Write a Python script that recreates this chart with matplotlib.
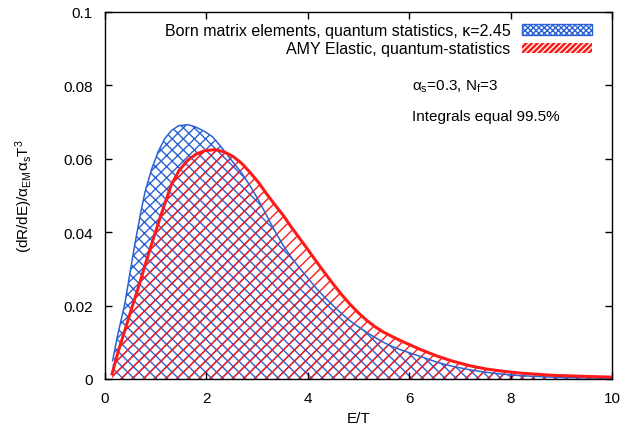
import numpy as np
import matplotlib
matplotlib.use("Agg")
import matplotlib.pyplot as plt
from matplotlib.patches import Patch

plt.rcParams['font.family'] = ['Liberation Sans', 'DejaVu Sans']
plt.rcParams['mathtext.fontset'] = 'custom'
plt.rcParams['mathtext.rm'] = 'Liberation Sans'
plt.rcParams['mathtext.it'] = 'Liberation Sans:italic'
plt.rcParams['font.size'] = 11
plt.rcParams['hatch.linewidth'] = 1.0

# Born matrix elements, quantum statistics (blue)
born_x = [0.15, 0.25, 0.39, 0.50, 0.59, 0.70, 0.79, 0.92, 1.05, 1.18, 1.31, 1.45,
          1.64, 1.80, 1.97, 2.12, 2.27, 2.40, 2.53, 2.70, 2.86, 3.03, 3.19, 3.35,
          3.52, 3.68, 3.85, 4.02, 4.18, 4.34, 4.50, 4.66, 4.83, 5.00, 5.16, 5.33,
          5.49, 5.66, 5.82, 6.21, 6.54, 6.87, 7.20, 7.53, 7.86, 8.19, 9.00, 10.0]
born_y = [0.0050, 0.0120, 0.0204, 0.0295, 0.0368, 0.0450, 0.0510, 0.0572, 0.0620,
          0.0655, 0.0677, 0.0690, 0.0693, 0.0686, 0.0674, 0.0660, 0.0636, 0.0613,
          0.0590, 0.0560, 0.0527, 0.0487, 0.0445, 0.0403, 0.0363, 0.0330, 0.0300,
          0.0272, 0.0245, 0.0222, 0.0200, 0.0179, 0.0159, 0.0142, 0.0127, 0.0113,
          0.0100, 0.0089, 0.0080, 0.0062, 0.0046, 0.0034, 0.0025, 0.0018, 0.0013,
          0.0009, 0.0004, 0.0002]

# AMY elastic, quantum statistics (red)
amy_x = [0.14, 0.25, 0.39, 0.52, 0.66, 0.79, 0.92, 1.10, 1.31, 1.47, 1.64, 1.80,
         1.97, 2.17, 2.35, 2.53, 2.70, 2.86, 3.03, 3.19, 3.35, 3.52, 3.68, 3.85,
         4.02, 4.18, 4.34, 4.50, 4.66, 4.83, 5.00, 5.16, 5.33, 5.49, 5.66, 5.82,
         6.21, 6.54, 6.87, 7.20, 7.53, 7.86, 8.19, 8.84, 9.50, 10.0]
amy_y = [0.0014, 0.0070, 0.0132, 0.0190, 0.0250, 0.0310, 0.0368, 0.0445, 0.0530,
         0.0570, 0.0597, 0.0613, 0.0622, 0.0625, 0.0619, 0.0606, 0.0587, 0.0563,
         0.0535, 0.0504, 0.0475, 0.0445, 0.0413, 0.0381, 0.0349, 0.0318, 0.0288,
         0.0259, 0.0231, 0.0204, 0.0180, 0.0160, 0.0142, 0.0128, 0.0116, 0.0105,
         0.0081, 0.0063, 0.0048, 0.0036, 0.0027, 0.0021, 0.0016, 0.0010, 0.0007,
         0.0005]

x_ticks = [0, 2, 4, 6, 8, 10]
y_ticks = [0, 0.02, 0.04, 0.06, 0.08, 0.1]
y_tick_labels = ['0', '0.02', '0.04', '0.06', '0.08', '0.1']

blue = '#2a62d4'
red = '#ff1a1a'

fig = plt.figure(figsize=(6.26, 4.31), dpi=100)
ax = fig.add_axes([105/626, 51/431, 507/626, 367/431])

ax.fill_between(born_x, born_y, 0, facecolor='none', edgecolor=blue,
                hatch='xxx', linewidth=0)
ax.fill_between(amy_x, amy_y, 0, facecolor='none', edgecolor=red,
                hatch='///', linewidth=0)
ax.plot(born_x, born_y, color=blue, lw=1.1)
ax.plot(amy_x, amy_y, color=red, lw=2.2)

# legend samples like gnuplot's pattern boxes
h_born = Patch(facecolor='none', edgecolor=blue, hatch='xxxxxx', lw=1.0)
h_amy = Patch(facecolor=red, edgecolor='white', hatch='//////', lw=0)
ax.legend([h_born, h_amy],
          ['Born matrix elements, quantum statistics, κ=2.45',
           'AMY Elastic, quantum-statistics'],
          loc='upper right', bbox_to_anchor=(1 - 9/507, 1),
          frameon=False, markerfirst=False,
          handlelength=4.4, handleheight=0.6, handletextpad=0.7,
          labelspacing=0.2, borderaxespad=0.3, fontsize=11.5)

ax.text(6.06, 0.0798, 'α$_{\\rm s}$=0.3, N$_{\\rm f}$=3', va='center', ha='left')
ax.text(6.06, 0.0717, 'Integrals equal 99.5%', va='center', ha='left')

ax.set_xlim(0, 10)
ax.set_ylim(0, 0.1)
ax.set_xticks(x_ticks)
ax.set_yticks(y_ticks)
ax.set_yticklabels(y_tick_labels)
ax.tick_params(direction='in', top=True, right=True, length=5, width=1)
ax.tick_params(axis='y', pad=9)
ax.tick_params(axis='x', pad=9)
for s in ax.spines.values():
    s.set_linewidth(1)

ax.set_xlabel('E/T', labelpad=4)
ax.set_ylabel('(dR/dE)/α$_{\\rm EM}$α$_{\\rm s}$T$^3$', labelpad=20)

fig.savefig('out.png', dpi=100)
